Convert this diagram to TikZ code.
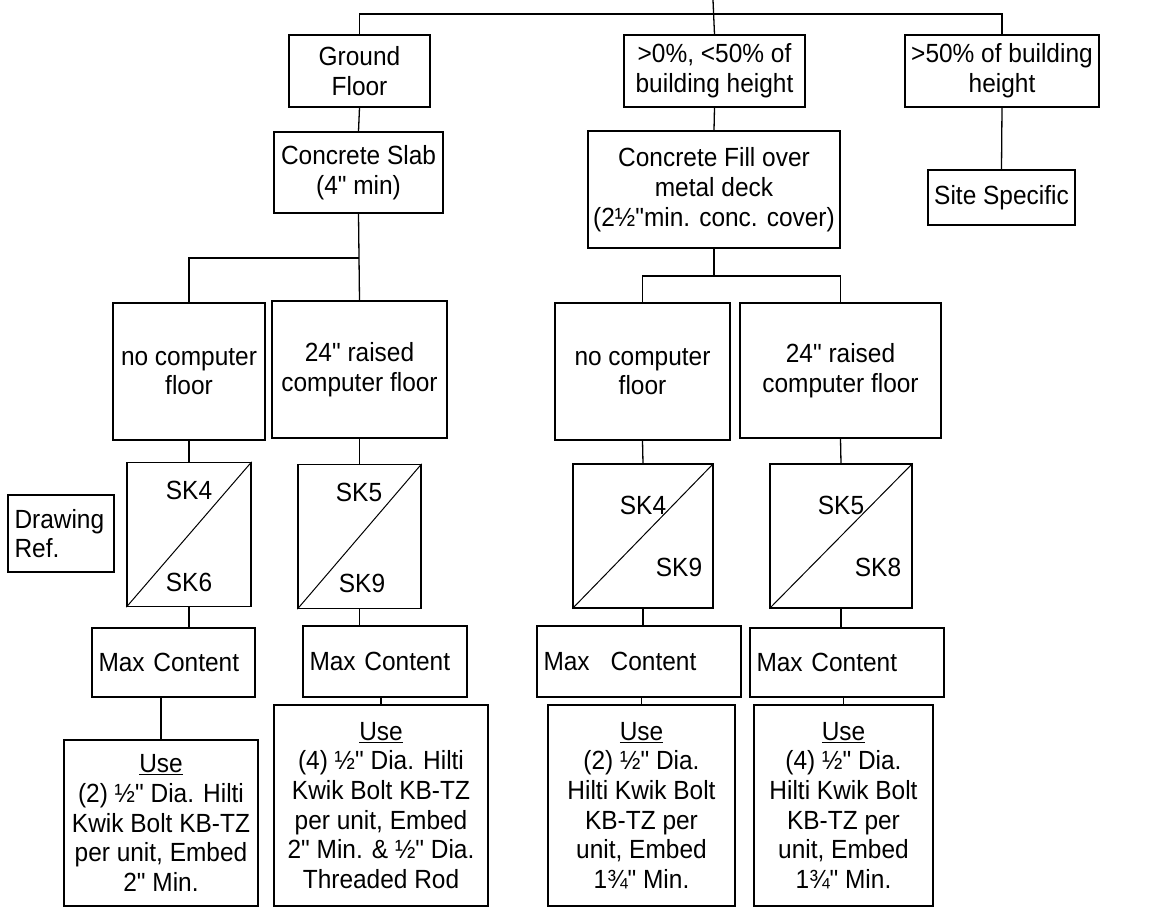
\documentclass[tikz,border=0pt]{standalone}
\usepackage{fontspec}
\setmainfont{Liberation Sans}[Ligatures=TeXOff,FakeStretch=0.93]
\usepackage{tikz}
\usetikzlibrary{positioning,calc}

\begin{document}
\begin{tikzpicture}[x=1pt,y=-1pt,font=\fontsize{26.3}{29.7}\selectfont,line width=1.3pt,
    box/.style={draw,inner sep=0pt,align=center},
    lbox/.style={draw,inner xsep=6.5pt,inner ysep=0pt,align=left}]
  \useasboundingbox (0,0) rectangle (1176,909);
  % top row
  \node[box,minimum width=141pt,minimum height=72pt] (ground) at (359.5,71) {Ground\\Floor};
  \node[box,minimum width=181pt,minimum height=72pt] (mid) at (714.5,71) {>0\%, <50\% of\\building height};
  \node[box,minimum width=194pt,minimum height=72pt] (high) at (1002,71) {>50\% of building\\height};
  \node[box,minimum width=169pt,minimum height=81pt] (slab) at (358.5,172.5) {Concrete Slab\\(4" min)};
  \node[box,minimum width=252pt,minimum height=117pt] (fill) at (714,189.5) {Concrete Fill over\\metal deck\\(2½"min. conc. cover)};
  \node[box,minimum width=147pt,minimum height=55pt] (site) at (1001.5,197.5) {Site Specific};
  % floor types
  \node[box,minimum width=152pt,minimum height=137pt] (none1) at (189,371.5) {no computer\\floor};
  \node[box,minimum width=175pt,minimum height=137pt] (raise1) at (359.5,369.5) {24" raised\\computer floor};
  \node[box,minimum width=175pt,minimum height=137pt] (none2) at (642.5,371.5) {no computer\\floor};
  \node[box,minimum width=201pt,minimum height=135pt] (raise2) at (840.5,370.5) {24" raised\\computer floor};
  % drawing refs
  \node[lbox,text width=93pt,minimum height=77pt] (ref) at (61,533.5) {Drawing\\Ref.};
  \foreach \n/\x/\y/\w in {1/189/534.5/124,2/359.5/536.5/123,3/643/536/140,4/841/536/142} {
    \node[box,minimum width=\w pt,minimum height=144pt] (sk\n) at (\x,\y) {};
    \draw[line width=1pt] (sk\n.south west) -- (sk\n.north east);
  }
  \node[inner sep=0pt] (sk1a) at (189,490) {SK4};
  \node[inner sep=0pt] (sk1b) at (189,582) {SK6};
  \node[inner sep=0pt] (sk2a) at (359,492) {SK5};
  \node[inner sep=0pt] (sk2b) at (362,583) {SK9};
  \node[inner sep=0pt] (sk3a) at (643,505) {SK4};
  \node[inner sep=0pt] (sk3b) at (679,567) {SK9};
  \node[inner sep=0pt] (sk4a) at (841,505) {SK5};
  \node[inner sep=0pt] (sk4b) at (878,567) {SK8};
  % max content
  \node[lbox,text width=150pt,minimum height=69pt] (mc1) at (173.5,662.5) {Max Content};
  \node[lbox,text width=151pt,minimum height=71pt] (mc2) at (385,661.5) {Max Content};
  \node[lbox,text width=191pt,minimum height=71pt] (mc3) at (639,661.5) {Max\hspace{21pt}Content};
  \node[lbox,text width=181pt,minimum height=69pt] (mc4) at (847,662.5) {Max Content};
  % anchors to use
  \node[box,minimum width=194pt,minimum height=166pt] (use1) at (161,823) {\underline{Use}\\(2) ½" Dia. Hilti\\Kwik Bolt KB-TZ\\per unit, Embed\\2" Min.};
  \node[box,minimum width=214pt,minimum height=201pt] (use2) at (381,805.5) {\underline{Use}\\(4) ½" Dia. Hilti\\Kwik Bolt KB-TZ\\per unit, Embed\\2" Min. \& ½" Dia.\\Threaded Rod};
  \node[box,minimum width=187pt,minimum height=201pt] (use3) at (641.5,805.5) {\underline{Use}\\(2) ½" Dia.\\Hilti Kwik Bolt\\KB-TZ per\\unit, Embed\\1¾" Min.};
  \node[box,minimum width=179pt,minimum height=201pt] (use4) at (843.5,805.5) {\underline{Use}\\(4) ½" Dia.\\Hilti Kwik Bolt\\KB-TZ per\\unit, Embed\\1¾" Min.};
  % connectors
  \coordinate (top) at (713,0);
  \coordinate (tj) at (713,14);
  \coordinate (j1) at (359,258);
  \coordinate (j2) at (714,276);
  \draw (top) -- (mid.north);
  \draw (ground.north) |- (tj) -| (high.north);
  \draw (ground.south) -- (slab.north);
  \draw (mid.south) -- (fill.north);
  \draw (high.south) -- (site.north);
  \draw (slab.south) -- (raise1.north);
  \draw (j1) -| (none1.north);
  \draw (fill.south) -- (j2);
  \draw (none2.north) |- (j2) -| (raise2.north);
  \draw (none1.south) -- (sk1.north);
  \draw (raise1.south) -- (sk2.north);
  \draw (none2.south) -- (sk3.north);
  \draw (raise2.south) -- (sk4.north);
  \foreach \n in {1,...,4} {
    \draw (sk\n.south) -- (sk\n.south |- mc\n.north);
    \draw (use\n.north |- mc\n.south) -- (use\n.north);
  }
\end{tikzpicture}
\end{document}
